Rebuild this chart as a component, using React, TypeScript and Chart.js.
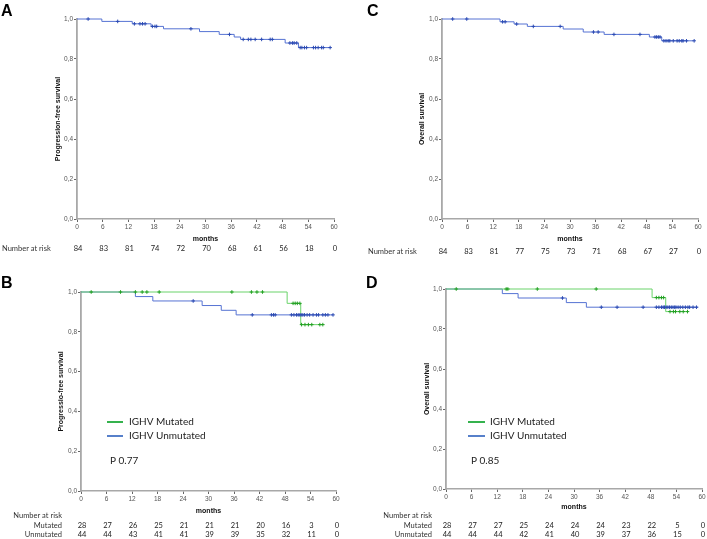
import React, { useEffect, useRef } from 'react';
import { Chart, registerables } from 'chart.js';
Chart.register(...registerables);

// ---------- shared axis data ----------
const monthTicks = [0, 6, 12, 18, 24, 30, 36, 42, 48, 54, 60];
const survTicks = [0, 0.2, 0.4, 0.6, 0.8, 1.0];

// ---------- Panel A: progression-free survival (all) ----------
const aTimes = [0, 5.8, 12.9, 17.3, 20.2, 28.6, 33.2, 36.7, 38.2, 48.6, 51.7, 59.1];
const aSurv = [1.0, 0.988, 0.976, 0.963, 0.951, 0.937, 0.923, 0.91, 0.898, 0.88, 0.857, 0.857];
const aCensor = [2.6, 9.5, 13.4, 14.7, 15.3, 15.9, 17.6, 18.2, 18.6, 26.6, 35.6, 38.8, 40.0, 40.6, 41.6, 43.1, 45.1, 45.6, 49.7, 50.3, 50.7, 51.3, 52.1, 52.5, 53.1, 53.6, 55.2, 55.7, 56.3, 57.1, 57.5, 59.1];
const aRisk = [84, 83, 81, 74, 72, 70, 68, 61, 56, 18, 0];

// ---------- Panel C: overall survival (all) ----------
const cTimes = [0, 13.6, 16.9, 20.0, 28.4, 33.1, 38.0, 48.6, 51.5, 59.0];
const cSurv = [1.0, 0.986, 0.975, 0.963, 0.95, 0.935, 0.923, 0.91, 0.891, 0.891];
const cCensor = [2.5, 5.8, 14.2, 14.8, 17.5, 21.4, 27.7, 35.5, 36.6, 40.3, 46.4, 49.9, 50.3, 50.7, 51.1, 52.0, 52.5, 53.0, 53.4, 54.2, 55.1, 55.6, 56.2, 56.5, 57.3, 59.1];
const cRisk = [84, 83, 81, 77, 75, 73, 71, 68, 67, 27, 0];

// ---------- Panel B: PFS by IGHV ----------
const bMutTimes = [0, 48.5, 51.7, 57.0];
const bMutSurv = [1.0, 0.943, 0.836, 0.836];
const bMutCensor = [2.4, 9.3, 12.8, 14.4, 15.5, 18.4, 35.5, 40.1, 41.4, 42.7, 49.9, 50.4, 50.9, 51.5, 51.9, 52.7, 53.5, 54.3, 56.2, 56.9];
const bUnTimes = [0, 12.8, 16.9, 28.5, 33.0, 36.5, 59.3];
const bUnSurv = [1.0, 0.977, 0.955, 0.932, 0.908, 0.885, 0.885];
const bUnCensor = [26.4, 40.3, 44.8, 45.3, 45.7, 49.5, 50.1, 50.7, 51.1, 51.5, 51.8, 52.2, 52.6, 53.2, 53.8, 54.6, 55.4, 55.9, 56.9, 57.5, 58.1, 59.3];
const bRiskMut = [28, 27, 26, 25, 21, 21, 21, 20, 16, 3, 0];
const bRiskUn = [44, 44, 43, 41, 41, 39, 39, 35, 32, 11, 0];

// ---------- Panel D: OS by IGHV ----------
const dMutTimes = [0, 48.3, 51.5, 56.8];
const dMutSurv = [1.0, 0.957, 0.887, 0.887];
const dMutCensor = [2.4, 14.1, 14.5, 21.4, 35.2, 49.3, 49.9, 50.5, 51.0, 52.5, 53.3, 53.8, 54.8, 55.6, 56.6];
const dUnTimes = [0, 13.2, 16.9, 28.2, 32.9, 59.1];
const dUnSurv = [1.0, 0.977, 0.955, 0.932, 0.909, 0.909];
const dUnCensor = [27.3, 36.4, 40.1, 46.2, 49.3, 49.9, 50.5, 50.9, 51.2, 51.6, 52.0, 52.4, 52.8, 53.2, 53.6, 53.9, 54.4, 54.9, 55.5, 56.1, 56.7, 57.1, 57.9, 58.7];
const dRiskMut = [28, 27, 27, 25, 24, 24, 24, 23, 22, 5, 0];
const dRiskUn = [44, 44, 44, 42, 41, 40, 39, 37, 36, 15, 0];

const legendLabels = ['IGHV Mutated', 'IGHV Unmutated'];

// ---------- styles ----------
const BLUE_LINE = '#5673d3';
const BLUE_MARK = '#2c4bb3';
const GREEN_LINE = '#6ad36a';
const GREEN_MARK = '#23a023';
const LEG_GREEN = '#1faa3a';
const LEG_BLUE = '#4472c4';
const TXT = 'Lato, "Open Sans", sans-serif';
const AX = '"Liberation Sans", Arial, sans-serif';

function stepAt(times: number[], surv: number[], t: number) {
  let v = surv[0];
  for (let i = 0; i < times.length; i++) if (times[i] <= t) v = surv[i];
  return v;
}

type Curve = { times: number[]; surv: number[]; censor: number[]; line: string; mark: string };
type Panel = {
  x: number; y: number; w: number; h: number;
  area: { l: number; r: number; t: number; b: number };
  letter: string; letterX: number; letterY: number;
  yTitle: string; yTitleX: number; monthsY: number;
  curves: Curve[];
  riskHeader: { text: string; x: number; y: number; align: CanvasTextAlign };
  riskRows: { label: string | null; values: number[]; y: number }[];
  labelRight?: number;
  legend?: { lx0: number; lx1: number; tx: number; y1: number; y2: number; px: number; py: number; p: string };
};

const panels: Panel[] = [
  {
    x: 0, y: 0, w: 355, h: 270, area: { l: 77, r: 334, t: 19, b: 219 },
    letter: 'A', letterX: 1, letterY: 16,
    yTitle: 'Progression-free survival', yTitleX: 58, monthsY: 239,
    curves: [{ times: aTimes, surv: aSurv, censor: aCensor, line: BLUE_LINE, mark: BLUE_MARK }],
    riskHeader: { text: 'Number at risk', x: 2, y: 249, align: 'left' },
    riskRows: [{ label: null, values: aRisk, y: 249 }],
  },
  {
    x: 355, y: 0, w: 352, h: 270, area: { l: 87, r: 343, t: 19, b: 219 },
    letter: 'C', letterX: 12, letterY: 16,
    yTitle: 'Overall survival', yTitleX: 67, monthsY: 239,
    curves: [{ times: cTimes, surv: cSurv, censor: cCensor, line: BLUE_LINE, mark: BLUE_MARK }],
    riskHeader: { text: 'Number at risk', x: 13, y: 252, align: 'left' },
    riskRows: [{ label: null, values: cRisk, y: 252 }],
  },
  {
    x: 0, y: 270, w: 355, h: 269, area: { l: 81, r: 336, t: 22, b: 221 },
    letter: 'B', letterX: 1, letterY: 18,
    yTitle: 'Progressio-free survival', yTitleX: 61, monthsY: 241,
    curves: [
      { times: bMutTimes, surv: bMutSurv, censor: bMutCensor, line: GREEN_LINE, mark: GREEN_MARK },
      { times: bUnTimes, surv: bUnSurv, censor: bUnCensor, line: BLUE_LINE, mark: BLUE_MARK },
    ],
    riskHeader: { text: 'Number at risk', x: 62, y: 246, align: 'right' },
    riskRows: [
      { label: 'Mutated', values: bRiskMut, y: 255.5 },
      { label: 'Unmutated', values: bRiskUn, y: 265 },
    ],
    labelRight: 62,
    legend: { lx0: 107, lx1: 123, tx: 129, y1: 152, y2: 166, px: 110, py: 191, p: 'P 0.77' },
  },
  {
    x: 355, y: 270, w: 352, h: 269, area: { l: 91, r: 347, t: 19, b: 219 },
    letter: 'D', letterX: 11, letterY: 18,
    yTitle: 'Overall survival', yTitleX: 72, monthsY: 237,
    curves: [
      { times: dMutTimes, surv: dMutSurv, censor: dMutCensor, line: GREEN_LINE, mark: GREEN_MARK },
      { times: dUnTimes, surv: dUnSurv, censor: dUnCensor, line: BLUE_LINE, mark: BLUE_MARK },
    ],
    riskHeader: { text: 'Number at risk', x: 77, y: 246, align: 'right' },
    riskRows: [
      { label: 'Mutated', values: dRiskMut, y: 255.5 },
      { label: 'Unmutated', values: dRiskUn, y: 265 },
    ],
    labelRight: 77,
    legend: { lx0: 113, lx1: 130, tx: 135, y1: 152, y2: 166, px: 116, py: 191, p: 'P 0.85' },
  },
];

function buildConfig(p: Panel): any {
  const datasets: any[] = [];
  // censor marks first (drawn on top), then lines
  p.curves.forEach((c) => {
    datasets.push({
      type: 'scatter',
      data: c.censor.map((t) => ({ x: t, y: stepAt(c.times, c.surv, t) })),
      pointStyle: 'cross',
      pointRadius: 1.8,
      borderColor: c.mark,
      backgroundColor: c.mark,
      borderWidth: 1,
      showLine: false,
      clip: false,
    });
  });
  p.curves.forEach((c) => {
    datasets.push({
      type: 'line',
      data: c.times.map((t, i) => ({ x: t, y: c.surv[i] })),
      stepped: 'before',
      borderColor: c.line,
      borderWidth: 1,
      pointRadius: 0,
      fill: false,
      clip: false,
    });
  });

  const titleLH = 7 * 1.2;
  const overlay = {
    id: 'overlay',
    afterDraw(chart: any) {
      const ctx = chart.ctx as CanvasRenderingContext2D;
      const xs = chart.scales.x;
      ctx.save();
      // panel letter
      ctx.fillStyle = '#000';
      ctx.font = `bold 16px ${AX}`;
      ctx.textAlign = 'left';
      ctx.textBaseline = 'alphabetic';
      ctx.fillText(p.letter, p.letterX, p.letterY);

      // number at risk
      ctx.textBaseline = 'middle';
      ctx.font = `7.5px ${TXT}`;
      ctx.fillStyle = '#333';
      ctx.textAlign = p.riskHeader.align;
      ctx.fillText(p.riskHeader.text, p.riskHeader.x, p.riskHeader.y);
      p.riskRows.forEach((row) => {
        if (row.label && p.labelRight !== undefined) {
          ctx.textAlign = 'right';
          ctx.fillStyle = '#333';
          ctx.fillText(row.label, p.labelRight, row.y);
        }
        ctx.textAlign = 'center';
        ctx.fillStyle = '#222';
        row.values.forEach((v, i) => {
          ctx.fillText(String(v), xs.getPixelForValue(monthTicks[i]) + 1, row.y);
        });
      });

      // legend + p value
      if (p.legend) {
        const L = p.legend;
        ctx.lineWidth = 1.8;
        ctx.strokeStyle = LEG_GREEN;
        ctx.beginPath(); ctx.moveTo(L.lx0, L.y1); ctx.lineTo(L.lx1, L.y1); ctx.stroke();
        ctx.strokeStyle = LEG_BLUE;
        ctx.beginPath(); ctx.moveTo(L.lx0, L.y2); ctx.lineTo(L.lx1, L.y2); ctx.stroke();
        ctx.font = `10px ${TXT}`;
        ctx.fillStyle = '#222';
        ctx.textAlign = 'left';
        ctx.fillText(legendLabels[0], L.tx, L.y1);
        ctx.fillText(legendLabels[1], L.tx, L.y2);
        ctx.fillText(L.p, L.px, L.py);
      }
      ctx.restore();
    },
  };

  return {
    type: 'line',
    data: { datasets },
    plugins: [overlay],
    options: {
      responsive: false,
      maintainAspectRatio: false,
      animation: false,
      events: [],
      layout: { padding: { left: 0, top: p.area.t, right: p.w - p.area.r, bottom: 0 } },
      plugins: { legend: { display: false }, tooltip: { enabled: false } },
      scales: {
        x: {
          type: 'linear',
          min: 0,
          max: 60,
          afterBuildTicks: (s: any) => { s.ticks = monthTicks.map((v) => ({ value: v })); },
          afterFit: (s: any) => { s.height = p.h - p.area.b; },
          grid: { display: true, drawOnChartArea: false, drawTicks: true, tickLength: 3, color: '#666', lineWidth: 1 },
          border: { display: true, color: '#a8a8a8', width: 1.5 },
          ticks: { font: { family: AX, size: 6.5 }, color: '#555', padding: 1, maxRotation: 0, autoSkip: false },
          title: {
            display: true, text: 'months', color: '#111',
            font: { family: AX, size: 7, weight: 'bold', lineHeight: 1.2 },
            padding: { top: 0, bottom: p.h - p.monthsY - titleLH / 2 },
          },
        },
        y: {
          type: 'linear',
          min: 0,
          max: 1,
          afterBuildTicks: (s: any) => { s.ticks = survTicks.map((v) => ({ value: v })); },
          afterFit: (s: any) => { s.width = p.area.l; },
          grid: { display: true, drawOnChartArea: false, drawTicks: true, tickLength: 3, color: '#666', lineWidth: 1 },
          border: { display: true, color: '#a8a8a8', width: 1.8 },
          ticks: {
            font: { family: AX, size: 6.5 }, color: '#555', padding: 1,
            callback: (v: number) => v.toFixed(1).replace('.', ','),
          },
          title: {
            display: true, text: p.yTitle, color: '#111',
            font: { family: AX, size: 7, weight: 'bold', lineHeight: 1.2 },
            padding: { top: p.yTitleX - titleLH / 2, bottom: 0 },
          },
        },
      },
    },
  };
}

function PanelChart({ p }: { p: Panel }) {
  const ref = useRef<HTMLCanvasElement | null>(null);
  useEffect(() => {
    if (!ref.current) return;
    const chart = new Chart(ref.current, buildConfig(p));
    return () => chart.destroy();
  }, [p]);
  return (
    <canvas
      ref={ref}
      width={p.w}
      height={p.h}
      style={{ position: 'absolute', left: p.x, top: p.y, width: p.w, height: p.h }}
    />
  );
}

export default function App() {
  return (
    <div style={{ position: 'absolute', left: 0, top: 0, width: 707, height: 539, background: '#fff', overflow: 'hidden' }}>
      {panels.map((p) => (
        <PanelChart key={p.letter} p={p} />
      ))}
    </div>
  );
}
